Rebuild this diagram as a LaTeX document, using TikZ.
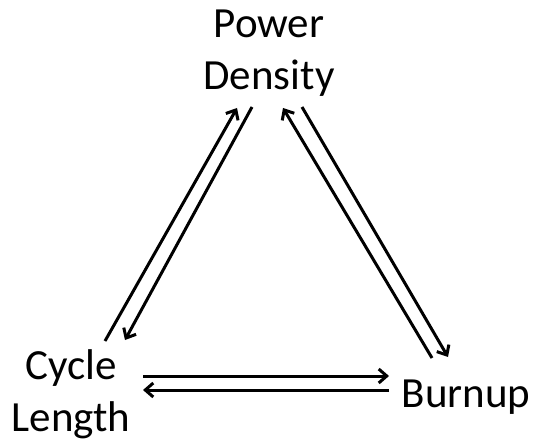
\documentclass[tikz,border=0pt]{standalone}
\usepackage{fontspec}
\setmainfont{Carlito}
\usetikzlibrary{arrows.meta}

\begin{document}
\begin{tikzpicture}[
    x=1pt, y=-1pt,
    line width=3pt,
    term/.style={font=\fontsize{43}{52}\selectfont, align=center, inner sep=0pt, anchor=base},
    link/.style={draw=black, -{Straight Barb[length=8pt, width=14pt]}},
]
\useasboundingbox (0,0) rectangle (536,441);

% Begriffe
\node[term] (pd) at (269,90) {Power\\Density};
\node[term] (cl) at (71,431) {Cycle\\Length};
\node[term] (bu) at (466,407) {Burnup};

% Pfeilenden
\coordinate (cl1) at (105,341);
\coordinate (pd1) at (237,108);
\coordinate (pd2) at (252,107);
\coordinate (cl2) at (125,340);
\coordinate (bu1) at (432,358);
\coordinate (pd3) at (283,108);
\coordinate (pd4) at (302,107);
\coordinate (bu2) at (448,357);
\coordinate (cl3) at (143,376);
\coordinate (bu3) at (389,376);
\coordinate (bu4) at (389,390);
\coordinate (cl4) at (143,390);

% Pfeile
\draw[link] (cl1) -- (pd1);
\draw[link] (pd2) -- (cl2);
\draw[link] (bu1) -- (pd3);
\draw[link] (pd4) -- (bu2);
\draw[link] (cl3) -- (bu3);
\draw[link] (bu4) -- (cl4);

\end{tikzpicture}
\end{document}
